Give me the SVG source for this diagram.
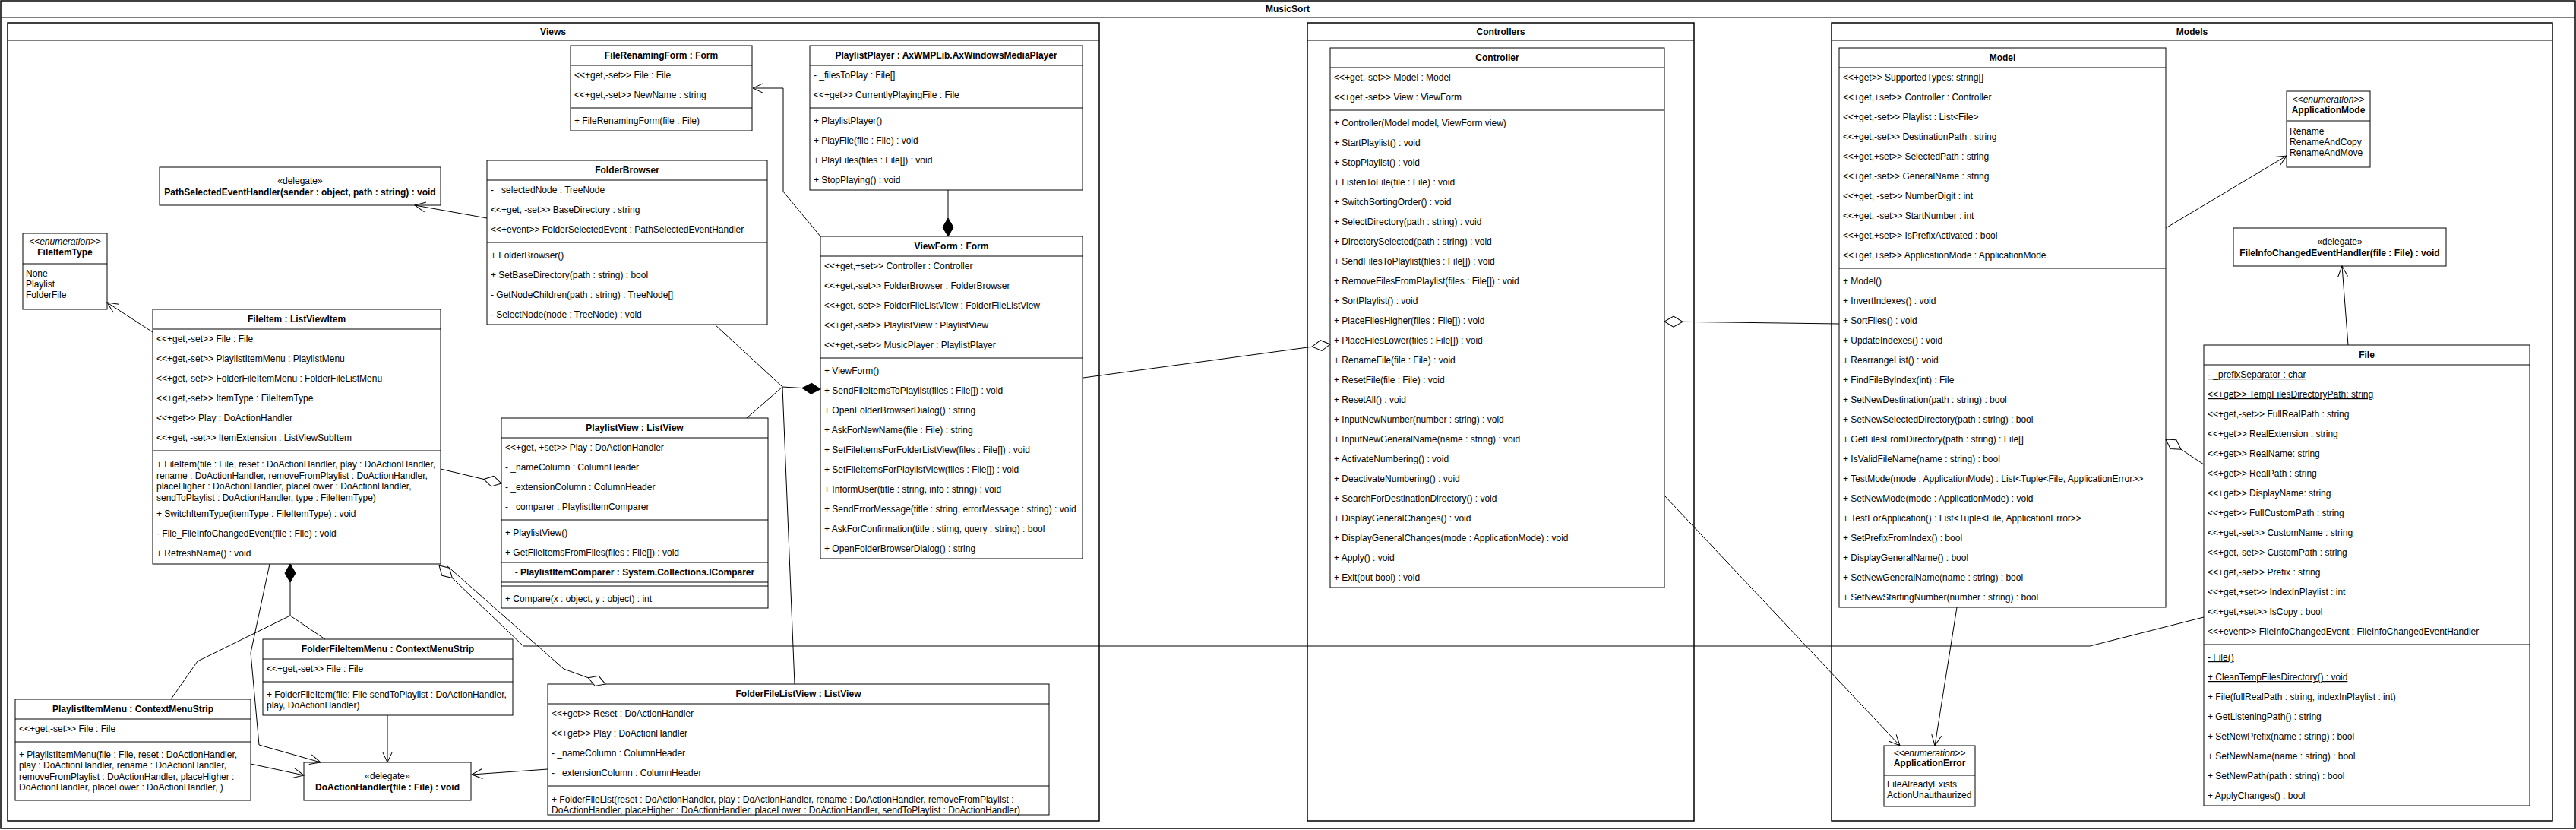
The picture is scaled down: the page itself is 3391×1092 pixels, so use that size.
<svg xmlns="http://www.w3.org/2000/svg" width="3391" height="1092" viewBox="0 0 3391 1092">
<defs>
<style>
text { font-family: "Liberation Sans", Arial, sans-serif; font-size: 12px; fill: #000; }
.b { font-weight: bold; }
.c { text-anchor: middle; }
.i { font-style: italic; }
.u { text-decoration: underline; }
.box { fill: #fff; stroke: #000; stroke-width: 1; }
.ln { stroke: #000; stroke-width: 1; fill: none; }
.frame { fill: none; stroke: #000; stroke-width: 1.5; }
.pnl { fill: #fff; stroke: #000; stroke-width: 1.5; }
</style>
<marker id="open" viewBox="0 0 16 16" refX="15" refY="8" markerWidth="16" markerHeight="16" markerUnits="userSpaceOnUse" orient="auto"><path d="M1,1.5 L15,8 L1,14.5" fill="none" stroke="#000" stroke-width="1"/></marker>
<marker id="dfill" viewBox="0 0 26 16" refX="25" refY="8" markerWidth="26" markerHeight="16" markerUnits="userSpaceOnUse" orient="auto"><path d="M1,8 L13,1 L25,8 L13,15 Z" fill="#000" stroke="#000" stroke-width="1"/></marker>
<marker id="dhollow" viewBox="0 0 26 16" refX="25" refY="8" markerWidth="26" markerHeight="16" markerUnits="userSpaceOnUse" orient="auto"><path d="M1,8 L13,1 L25,8 L13,15 Z" fill="#fff" stroke="#000" stroke-width="1"/></marker>
</defs>
<rect width="3391" height="1092" fill="#fff"/>

<g id="frame-musicsort">
<rect class="frame" x="1" y="1" width="3389" height="1089"/>
<line class="ln" x1="1" y1="23" x2="3390" y2="23"/>
<text class="b c" x="1695" y="16">MusicSort</text>
</g>

<g id="package-views">
<rect class="pnl" x="10" y="30" width="1437" height="1050"/>
<line class="ln" x1="10" y1="53" x2="1447" y2="53"/>
<text class="b c" x="728" y="46">Views</text>
</g>
<g id="package-controllers">
<rect class="pnl" x="1721" y="30" width="509" height="1050"/>
<line class="ln" x1="1721" y1="53" x2="2230" y2="53"/>
<text class="b c" x="1975.5" y="46">Controllers</text>
</g>
<g id="package-models">
<rect class="pnl" x="2411" y="30" width="949" height="1050"/>
<line class="ln" x1="2411" y1="53" x2="3360" y2="53"/>
<text class="b c" x="2885.5" y="46">Models</text>
</g>

<g id="FileRenamingForm">
<rect class="box" x="751" y="60" width="239" height="112"/>
<line class="ln" x1="751" y1="86" x2="990" y2="86"/>
<line class="ln" x1="751" y1="142" x2="990" y2="142"/>
<text class="b c" x="870.5" y="77">FileRenamingForm : Form</text>
<text x="756" y="103">&lt;&lt;+get,-set&gt;&gt; File : File</text>
<text x="756" y="129">&lt;&lt;+get,-set&gt;&gt; NewName : string</text>
<text x="756" y="163">+ FileRenamingForm(file : File)</text>
</g>

<g id="PlaylistPlayer">
<rect class="box" x="1066" y="60" width="359" height="190"/>
<line class="ln" x1="1066" y1="86" x2="1425" y2="86"/>
<line class="ln" x1="1066" y1="142" x2="1425" y2="142"/>
<text class="b c" x="1245.5" y="77">PlaylistPlayer : AxWMPLib.AxWindowsMediaPlayer</text>
<text x="1071" y="103">- _filesToPlay : File[]</text>
<text x="1071" y="129">&lt;&lt;+get&gt;&gt; CurrentlyPlayingFile : File</text>
<text x="1071" y="163">+ PlaylistPlayer()</text>
<text x="1071" y="189">+ PlayFile(file : File) : void</text>
<text x="1071" y="215">+ PlayFiles(files : File[]) : void</text>
<text x="1071" y="241">+ StopPlaying() : void</text>
</g>

<g id="PathSelectedEventHandler">
<rect class="box" x="210" y="220" width="370" height="50"/>
<text class="c" x="395" y="242">«delegate»</text>
<text class="b c" x="395" y="257">PathSelectedEventHandler(sender : object, path : string) : void</text>
</g>

<g id="FolderBrowser">
<rect class="box" x="641" y="211" width="369" height="216"/>
<line class="ln" x1="641" y1="237" x2="1010" y2="237"/>
<line class="ln" x1="641" y1="319" x2="1010" y2="319"/>
<text class="b c" x="825.5" y="228">FolderBrowser</text>
<text x="646" y="254">- _selectedNode : TreeNode</text>
<text x="646" y="280">&lt;&lt;+get, -set&gt;&gt; BaseDirectory : string</text>
<text x="646" y="306">&lt;&lt;+event&gt;&gt; FolderSelectedEvent : PathSelectedEventHandler</text>
<text x="646" y="340">+ FolderBrowser()</text>
<text x="646" y="366">+ SetBaseDirectory(path : string) : bool</text>
<text x="646" y="392">- GetNodeChildren(path : string) : TreeNode[]</text>
<text x="646" y="418">- SelectNode(node : TreeNode) : void</text>
</g>

<g id="FileItemType">
<rect class="box" x="30" y="307" width="111" height="100"/>
<line class="ln" x1="30" y1="347" x2="141" y2="347"/>
<text class="i c" x="85.5" y="322">&lt;&lt;enumeration&gt;&gt;</text>
<text class="b c" x="85.5" y="336">FileItemType</text>
<text x="34" y="364">None</text>
<text x="34" y="378">Playlist</text>
<text x="34" y="392">FolderFile</text>
</g>

<g id="ViewForm">
<rect class="box" x="1080" y="311" width="345" height="424"/>
<line class="ln" x1="1080" y1="337" x2="1425" y2="337"/>
<line class="ln" x1="1080" y1="471" x2="1425" y2="471"/>
<text class="b c" x="1252.5" y="328">ViewForm : Form</text>
<text x="1085" y="354">&lt;&lt;+get,+set&gt;&gt; Controller : Controller</text>
<text x="1085" y="380">&lt;&lt;+get,-set&gt;&gt; FolderBrowser : FolderBrowser</text>
<text x="1085" y="406">&lt;&lt;+get,-set&gt;&gt; FolderFileListView : FolderFileListView</text>
<text x="1085" y="432">&lt;&lt;+get,-set&gt;&gt; PlaylistView : PlaylistView</text>
<text x="1085" y="458">&lt;&lt;+get,-set&gt;&gt; MusicPlayer : PlaylistPlayer</text>
<text x="1085" y="492">+ ViewForm()</text>
<text x="1085" y="518">+ SendFileItemsToPlaylist(files : File[]) : void</text>
<text x="1085" y="544">+ OpenFolderBrowserDialog() : string</text>
<text x="1085" y="570">+ AskForNewName(file : File) : string</text>
<text x="1085" y="596">+ SetFileItemsForFolderListView(files : File[]) : void</text>
<text x="1085" y="622">+ SetFileItemsForPlaylistView(files : File[]) : void</text>
<text x="1085" y="648">+ InformUser(title : string, info : string) : void</text>
<text x="1085" y="674">+ SendErrorMessage(title : string, errorMessage : string) : void</text>
<text x="1085" y="700">+ AskForConfirmation(title : stirng, query : string) : bool</text>
<text x="1085" y="726">+ OpenFolderBrowserDialog() : string</text>
</g>

<g id="FileItem">
<rect class="box" x="201" y="407" width="379" height="335"/>
<line class="ln" x1="201" y1="433" x2="580" y2="433"/>
<line class="ln" x1="201" y1="593" x2="580" y2="593"/>
<text class="b c" x="390.5" y="424">FileItem : ListViewItem</text>
<text x="206" y="450">&lt;&lt;+get,-set&gt;&gt; File : File</text>
<text x="206" y="476">&lt;&lt;+get,-set&gt;&gt; PlaylistItemMenu : PlaylistMenu</text>
<text x="206" y="502">&lt;&lt;+get,-set&gt;&gt; FolderFileItemMenu : FolderFileListMenu</text>
<text x="206" y="528">&lt;&lt;+get,-set&gt;&gt; ItemType : FileItemType</text>
<text x="206" y="554">&lt;&lt;+get&gt;&gt; Play : DoActionHandler</text>
<text x="206" y="580">&lt;&lt;+get, -set&gt;&gt; ItemExtension : ListViewSubItem</text>
<text x="206" y="615">+ FileItem(file : File, reset : DoActionHandler, play : DoActionHandler,</text>
<text x="206" y="629.5">rename : DoActionHandler, removeFromPlaylist : DoActionHandler,</text>
<text x="206" y="644">placeHigher : DoActionHandler, placeLower : DoActionHandler,</text>
<text x="206" y="658.5">sendToPlaylist : DoActionHandler, type : FileItemType)</text>
<text x="206" y="680">+ SwitchItemType(itemType : FileItemType) : void</text>
<text x="206" y="706">- File_FileInfoChangedEvent(file : File) : void</text>
<text x="206" y="732">+ RefreshName() : void</text>
</g>

<g id="PlaylistView">
<rect class="box" x="660" y="550" width="351" height="250"/>
<line class="ln" x1="660" y1="576" x2="1011" y2="576"/>
<line class="ln" x1="660" y1="684" x2="1011" y2="684"/>
<line class="ln" x1="660" y1="740" x2="1011" y2="740"/>
<line class="ln" x1="660" y1="766" x2="1011" y2="766"/>
<line class="ln" x1="660" y1="771" x2="1011" y2="771"/>
<text class="b c" x="835.5" y="567">PlaylistView : ListView</text>
<text x="665" y="593">&lt;&lt;+get, +set&gt;&gt; Play : DoActionHandler</text>
<text x="665" y="619">- _nameColumn : ColumnHeader</text>
<text x="665" y="645">- _extensionColumn : ColumnHeader</text>
<text x="665" y="671">- _comparer : PlaylistItemComparer</text>
<text x="665" y="705">+ PlaylistView()</text>
<text x="665" y="731">+ GetFileItemsFromFiles(files : File[]) : void</text>
<text class="b c" x="835.5" y="757">- PlaylistItemComparer : System.Collections.IComparer</text>
<text x="665" y="792">+ Compare(x : object, y : object) : int</text>
</g>

<g id="FolderFileItemMenu">
<rect class="box" x="346" y="841" width="329" height="100"/>
<line class="ln" x1="346" y1="867" x2="675" y2="867"/>
<line class="ln" x1="346" y1="897" x2="675" y2="897"/>
<text class="b c" x="510.5" y="858">FolderFileItemMenu : ContextMenuStrip</text>
<text x="351" y="884">&lt;&lt;+get,-set&gt;&gt; File : File</text>
<text x="351" y="918">+ FolderFileItem(file: File sendToPlaylist : DoActionHandler,</text>
<text x="351" y="932">play, DoActionHandler)</text>
</g>

<g id="PlaylistItemMenu">
<rect class="box" x="20" y="920" width="310" height="133"/>
<line class="ln" x1="20" y1="946" x2="330" y2="946"/>
<line class="ln" x1="20" y1="976" x2="330" y2="976"/>
<text class="b c" x="175" y="937">PlaylistItemMenu : ContextMenuStrip</text>
<text x="25" y="963">&lt;&lt;+get,-set&gt;&gt; File : File</text>
<text x="25" y="996.5">+ PlaylistItemMenu(file : File, reset : DoActionHandler,</text>
<text x="25" y="1011">play : DoActionHandler, rename : DoActionHandler,</text>
<text x="25" y="1026">removeFromPlaylist : DoActionHandler, placeHigher :</text>
<text x="25" y="1040">DoActionHandler, placeLower : DoActionHandler, )</text>
</g>

<g id="DoActionHandler">
<rect class="box" x="400" y="1003" width="220" height="50"/>
<text class="c" x="510" y="1025">«delegate»</text>
<text class="b c" x="510" y="1040">DoActionHandler(file : File) : void</text>
</g>

<g id="FolderFileListView">
<rect class="box" x="721" y="900" width="660" height="172"/>
<line class="ln" x1="721" y1="926" x2="1381" y2="926"/>
<line class="ln" x1="721" y1="1034" x2="1381" y2="1034"/>
<text class="b c" x="1051" y="917">FolderFileListView : ListView</text>
<text x="726" y="943">&lt;&lt;+get&gt;&gt; Reset : DoActionHandler</text>
<text x="726" y="969">&lt;&lt;+get&gt;&gt; Play : DoActionHandler</text>
<text x="726" y="995">- _nameColumn : ColumnHeader</text>
<text x="726" y="1021">- _extensionColumn : ColumnHeader</text>
<text x="726" y="1056">+ FolderFileList(reset : DoActionHandler, play : DoActionHandler, rename : DoActionHandler, removeFromPlaylist :</text>
<text x="726" y="1069.5">DoActionHandler, placeHigher : DoActionHandler, placeLower : DoActionHandler, sendToPlaylist : DoActionHandler)</text>
</g>

<g id="Controller">
<rect class="box" x="1751" y="63" width="440" height="710"/>
<line class="ln" x1="1751" y1="89" x2="2191" y2="89"/>
<line class="ln" x1="1751" y1="145" x2="2191" y2="145"/>
<text class="b c" x="1971" y="80">Controller</text>
<text x="1756" y="106">&lt;&lt;+get,-set&gt;&gt; Model : Model</text>
<text x="1756" y="132">&lt;&lt;+get,-set&gt;&gt; View : ViewForm</text>
<text x="1756" y="166">+ Controller(Model model, ViewForm view)</text>
<text x="1756" y="192">+ StartPlaylist() : void</text>
<text x="1756" y="218">+ StopPlaylist() : void</text>
<text x="1756" y="244">+ ListenToFile(file : File) : void</text>
<text x="1756" y="270">+ SwitchSortingOrder() : void</text>
<text x="1756" y="296">+ SelectDirectory(path : string) : void</text>
<text x="1756" y="322">+ DirectorySelected(path : string) : void</text>
<text x="1756" y="348">+ SendFilesToPlaylist(files : File[]) : void</text>
<text x="1756" y="374">+ RemoveFilesFromPlaylist(files : File[]) : void</text>
<text x="1756" y="400">+ SortPlaylist() : void</text>
<text x="1756" y="426">+ PlaceFilesHigher(files : File[]) : void</text>
<text x="1756" y="452">+ PlaceFilesLower(files : File[]) : void</text>
<text x="1756" y="478">+ RenameFile(file : File) : void</text>
<text x="1756" y="504">+ ResetFile(file : File) : void</text>
<text x="1756" y="530">+ ResetAll() : void</text>
<text x="1756" y="556">+ InputNewNumber(number : string) : void</text>
<text x="1756" y="582">+ InputNewGeneralName(name : string) : void</text>
<text x="1756" y="608">+ ActivateNumbering() : void</text>
<text x="1756" y="634">+ DeactivateNumbering() : void</text>
<text x="1756" y="660">+ SearchForDestinationDirectory() : void</text>
<text x="1756" y="686">+ DisplayGeneralChanges() : void</text>
<text x="1756" y="712">+ DisplayGeneralChanges(mode : ApplicationMode) : void</text>
<text x="1756" y="738">+ Apply() : void</text>
<text x="1756" y="764">+ Exit(out bool) : void</text>
</g>

<g id="Model">
<rect class="box" x="2421" y="63" width="430" height="736"/>
<line class="ln" x1="2421" y1="89" x2="2851" y2="89"/>
<line class="ln" x1="2421" y1="353" x2="2851" y2="353"/>
<text class="b c" x="2636" y="80">Model</text>
<text x="2426" y="106">&lt;&lt;+get&gt;&gt; SupportedTypes: string[]</text>
<text x="2426" y="132">&lt;&lt;+get,+set&gt;&gt; Controller : Controller</text>
<text x="2426" y="158">&lt;&lt;+get,-set&gt;&gt; Playlist : List&lt;File&gt;</text>
<text x="2426" y="184">&lt;&lt;+get,-set&gt;&gt; DestinationPath : string</text>
<text x="2426" y="210">&lt;&lt;+get,+set&gt;&gt; SelectedPath : string</text>
<text x="2426" y="236">&lt;&lt;+get,-set&gt;&gt; GeneralName : string</text>
<text x="2426" y="262">&lt;&lt;+get, -set&gt;&gt; NumberDigit : int</text>
<text x="2426" y="288">&lt;&lt;+get, -set&gt;&gt; StartNumber : int</text>
<text x="2426" y="314">&lt;&lt;+get,+set&gt;&gt; IsPrefixActivated : bool</text>
<text x="2426" y="340">&lt;&lt;+get,+set&gt;&gt; ApplicationMode : ApplicationMode</text>
<text x="2426" y="374">+ Model()</text>
<text x="2426" y="400">+ InvertIndexes() : void</text>
<text x="2426" y="426">+ SortFiles() : void</text>
<text x="2426" y="452">+ UpdateIndexes() : void</text>
<text x="2426" y="478">+ RearrangeList() : void</text>
<text x="2426" y="504">+ FindFileByIndex(int) : File</text>
<text x="2426" y="530">+ SetNewDestination(path : string) : bool</text>
<text x="2426" y="556">+ SetNewSelectedDirectory(path : string) : bool</text>
<text x="2426" y="582">+ GetFilesFromDirectory(path : string) : File[]</text>
<text x="2426" y="608">+ IsValidFileName(name : string) : bool</text>
<text x="2426" y="634">+ TestMode(mode : ApplicationMode) : List&lt;Tuple&lt;File, ApplicationError&gt;&gt;</text>
<text x="2426" y="660">+ SetNewMode(mode : ApplicationMode) : void</text>
<text x="2426" y="686">+ TestForApplication() : List&lt;Tuple&lt;File, ApplicationError&gt;&gt;</text>
<text x="2426" y="712">+ SetPrefixFromIndex() : bool</text>
<text x="2426" y="738">+ DisplayGeneralName() : bool</text>
<text x="2426" y="764">+ SetNewGeneralName(name : string) : bool</text>
<text x="2426" y="790">+ SetNewStartingNumber(number : string) : bool</text>
</g>

<g id="ApplicationMode">
<rect class="box" x="3010" y="120" width="110" height="100"/>
<line class="ln" x1="3010" y1="159" x2="3120" y2="159"/>
<text class="i c" x="3065" y="135">&lt;&lt;enumeration&gt;&gt;</text>
<text class="b c" x="3065" y="149">ApplicationMode</text>
<text x="3014" y="177">Rename</text>
<text x="3014" y="191">RenameAndCopy</text>
<text x="3014" y="205">RenameAndMove</text>
</g>

<g id="FileInfoChangedEventHandler">
<rect class="box" x="2940" y="300" width="280" height="50"/>
<text class="c" x="3080" y="322">«delegate»</text>
<text class="b c" x="3080" y="337">FileInfoChangedEventHandler(file : File) : void</text>
</g>

<g id="File">
<rect class="box" x="2901" y="454" width="429" height="606"/>
<line class="ln" x1="2901" y1="480" x2="3330" y2="480"/>
<line class="ln" x1="2901" y1="848" x2="3330" y2="848"/>
<text class="b c" x="3115.5" y="471">File</text>
<text class="u" x="2906" y="497">- _prefixSeparator : char</text>
<text class="u" x="2906" y="523">&lt;&lt;+get&gt;&gt; TempFilesDirectoryPath: string</text>
<text x="2906" y="549">&lt;&lt;+get,-set&gt;&gt; FullRealPath : string</text>
<text x="2906" y="575">&lt;&lt;+get&gt;&gt; RealExtension : string</text>
<text x="2906" y="601">&lt;&lt;+get&gt;&gt; RealName: string</text>
<text x="2906" y="627">&lt;&lt;+get&gt;&gt; RealPath : string</text>
<text x="2906" y="653">&lt;&lt;+get&gt;&gt; DisplayName: string</text>
<text x="2906" y="679">&lt;&lt;+get&gt;&gt; FullCustomPath : string</text>
<text x="2906" y="705">&lt;&lt;+get,-set&gt;&gt; CustomName : string</text>
<text x="2906" y="731">&lt;&lt;+get,-set&gt;&gt; CustomPath : string</text>
<text x="2906" y="757">&lt;&lt;+get,-set&gt;&gt; Prefix : string</text>
<text x="2906" y="783">&lt;&lt;+get,+set&gt;&gt; IndexInPlaylist : int</text>
<text x="2906" y="809">&lt;&lt;+get,+set&gt;&gt; IsCopy : bool</text>
<text x="2906" y="835">&lt;&lt;+event&gt;&gt; FileInfoChangedEvent : FileInfoChangedEventHandler</text>
<text class="u" x="2906" y="869">- File()</text>
<text class="u" x="2906" y="895">+ CleanTempFilesDirectory() : void</text>
<text x="2906" y="921">+ File(fullRealPath : string, indexInPlaylist : int)</text>
<text x="2906" y="947">+ GetListeningPath() : string</text>
<text x="2906" y="973">+ SetNewPrefix(name : string) : bool</text>
<text x="2906" y="999">+ SetNewName(name : string) : bool</text>
<text x="2906" y="1025">+ SetNewPath(path : string) : bool</text>
<text x="2906" y="1051">+ ApplyChanges() : bool</text>
</g>

<g id="ApplicationError">
<rect class="box" x="2480" y="981" width="120" height="80"/>
<line class="ln" x1="2480" y1="1020" x2="2600" y2="1020"/>
<text class="i c" x="2540" y="994.5">&lt;&lt;enumeration&gt;&gt;</text>
<text class="b c" x="2540" y="1008">ApplicationError</text>
<text x="2484" y="1036">FileAlreadyExists</text>
<text x="2484" y="1050">ActionUnauthaurized</text>
</g>

<g id="connectors">
<path class="ln" d="M641,287 L546,270" marker-end="url(#open)"/>
<path class="ln" d="M201,437 L141,398" marker-end="url(#open)"/>
<path class="ln" d="M1080,311 L1031,252 L1031,116 L991,116" marker-end="url(#open)"/>
<path class="ln" d="M1248,250 L1248,311" marker-end="url(#dfill)"/>
<path class="ln" d="M941,427 L1030,509"/>
<path class="ln" d="M983,550 L1030,509"/>
<path class="ln" d="M1046,900 L1030,509"/>
<path class="ln" d="M1030,509 L1080,512" marker-end="url(#dfill)"/>
<path class="ln" d="M1426,497 L1751,453" marker-end="url(#dhollow)"/>
<path class="ln" d="M2421,426 L2191,423" marker-end="url(#dhollow)"/>
<path class="ln" d="M2191,652 L2501,981" marker-end="url(#open)"/>
<path class="ln" d="M2576,799 L2547,981" marker-end="url(#open)"/>
<path class="ln" d="M2851,300 L3010,205" marker-end="url(#open)"/>
<path class="ln" d="M2901,611 L2851,578" marker-end="url(#dhollow)"/>
<path class="ln" d="M3091,454 L3083,350" marker-end="url(#open)"/>
<path class="ln" d="M2901,812 L2751,850 L689,850 L578,744" marker-end="url(#dhollow)"/>
<path class="ln" d="M588,744 L742,880 L797,900" marker-end="url(#dhollow)"/>
<path class="ln" d="M580,617 L660,636" marker-end="url(#dhollow)"/>
<path class="ln" d="M355,742 L330,859 L341,980 L422,1003" marker-end="url(#open)"/>
<path class="ln" d="M382,810 L382,742" marker-end="url(#dfill)"/>
<path class="ln" d="M382,810 L260,870 L225,920"/>
<path class="ln" d="M382,810 L428,841"/>
<path class="ln" d="M510,941 L510,1003" marker-end="url(#open)"/>
<path class="ln" d="M330,1005 L400,1020" marker-end="url(#open)"/>
<path class="ln" d="M721,1012 L621,1019" marker-end="url(#open)"/>
</g>
</svg>
